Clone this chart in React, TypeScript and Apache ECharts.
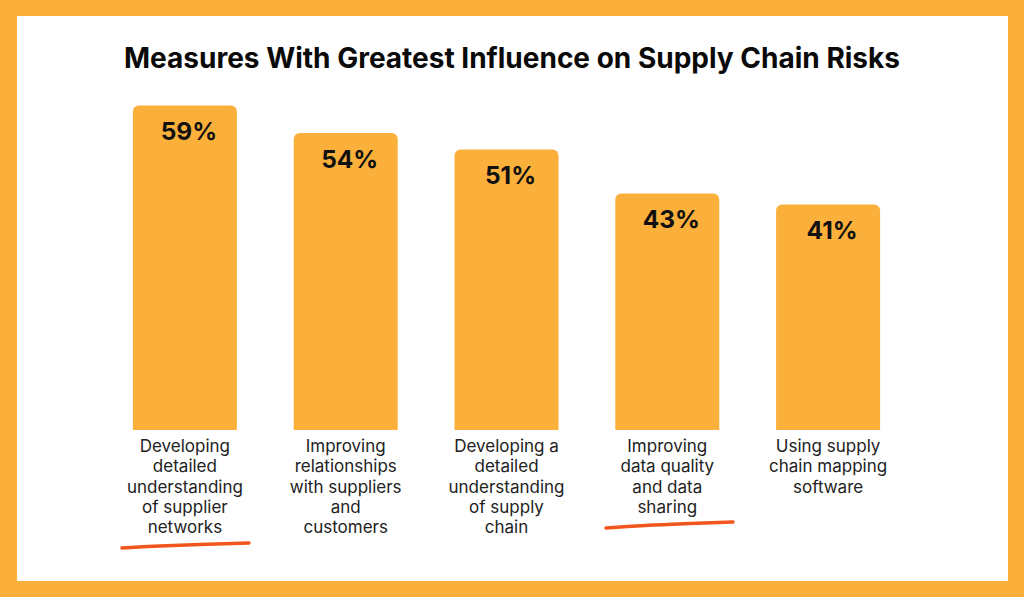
import React, { useEffect, useRef } from "react";
import * as echarts from "echarts";

const categories = [
  "Developing\ndetailed\nunderstanding\nof supplier\nnetworks",
  "Improving\nrelationships\nwith suppliers\nand\ncustomers",
  "Developing a\ndetailed\nunderstanding\nof supply\nchain",
  "Improving\ndata quality\nand data\nsharing",
  "Using supply\nchain mapping\nsoftware",
];
const values = [59, 54, 51, 43, 41];
const title = "Measures With Greatest Influence on Supply Chain Risks";

const ORANGE = "#FBB03B";
const RED = "#F2561D";

export default function App() {
  const ref = useRef<HTMLDivElement>(null);
  useEffect(() => {
    document.body.style.margin = "0";
    const chart = echarts.init(ref.current!, null, { renderer: "svg" });
    chart.setOption({
      animation: false,
      backgroundColor: ORANGE,
      title: {
        text: title,
        left: "center",
        top: 39,
        textStyle: {
          fontFamily: "Inter",
          fontWeight: 700,
          fontSize: 28,
          color: "#0a0a0a",
        },
      },
      grid: { left: 104.5, right: 1024 - 908.5, top: 100, bottom: 597 - 430 },
      xAxis: {
        type: "category",
        data: categories,
        axisLine: { show: false },
        axisTick: { show: false },
        axisLabel: {
          interval: 0,
          margin: 6,
          fontFamily: "Inter",
          fontSize: 17,
          lineHeight: 20.3,
          color: "#222",
          verticalAlign: "top",
        },
      },
      yAxis: {
        type: "value",
        min: 0,
        max: 60,
        show: false,
        splitLine: { show: false },
      },
      graphic: [
        {
          type: "rect",
          z: -10,
          shape: { x: 17, y: 16, width: 991, height: 565 },
          style: { fill: "#ffffff" },
        },
        {
          type: "polyline",
          shape: { points: [[122, 548], [160, 546], [200, 544.5], [249, 543]], smooth: 0.4 },
          style: { stroke: RED, lineWidth: 3.5, lineCap: "round", fill: "none" },
        },
        {
          type: "polyline",
          shape: { points: [[606, 528], [645, 525.5], [690, 523.5], [733, 522]], smooth: 0.4 },
          style: { stroke: RED, lineWidth: 3.5, lineCap: "round", fill: "none" },
        },
      ],
      series: [
        {
          type: "bar",
          data: values,
          barWidth: 104,
          itemStyle: { color: ORANGE, borderRadius: [6, 6, 0, 0] },
          label: {
            show: true,
            position: "insideTop",
            distance: 13,
            offset: [4, 0],
            formatter: "{c}%",
            fontFamily: "Inter",
            fontWeight: 700,
            fontSize: 24.5,
            color: "#111",
          },
        },
      ],
    });
    return () => chart.dispose();
  }, []);
  return <div ref={ref} style={{ width: 1024, height: 597 }} />;
}
